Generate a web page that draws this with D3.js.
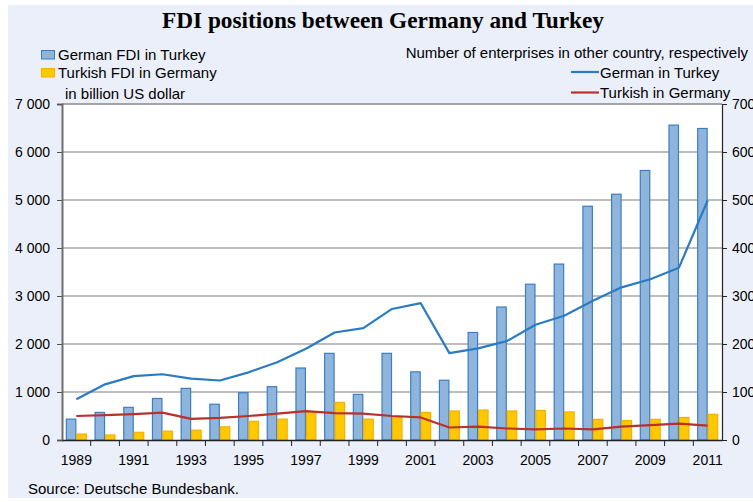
<!DOCTYPE html>
<html>
<head>
<meta charset="utf-8">
<script src="https://cdn.jsdelivr.net/npm/d3@7"></script>
<style>
    html, body { margin: 0; padding: 0; background: #fff; }
    svg { display: block; }
    text { font-family: 'Liberation Sans', Arial, sans-serif; fill: #000; }
</style>
</head>
<body>
<div id="chart"></div>
<script>
(function() {
    'use strict';

    var years = [1989, 1990, 1991, 1992, 1993, 1994, 1995, 1996, 1997, 1998, 1999, 2000,
        2001, 2002, 2003, 2004, 2005, 2006, 2007, 2008, 2009, 2010, 2011];

    // bars, left axis (billion US dollar)
    var germanFdi = [435, 575, 680, 865, 1075, 745, 985, 1110, 1500, 1805, 950, 1805,
        1420, 1245, 2240, 2770, 3245, 3665, 4870, 5120, 5615, 6560, 6490];
    var turkishFdi = [125, 105, 160, 185, 205, 275, 390, 435, 575, 785, 435, 465,
        575, 605, 625, 605, 615, 585, 430, 405, 430, 470, 535];

    // lines, right axis (number of enterprises)
    var germanEnterprises = [85, 116, 133, 137, 128, 124, 141, 162, 190, 224, 233, 273,
        285, 181, 191, 206, 240, 259, 290, 318, 335, 359, 499];
    var turkishEnterprises = [50, 52, 54, 57, 44, 46, 50, 55, 60, 56, 55, 50,
        47, 26, 28, 24, 22, 24, 22, 28, 31, 34, 30];

    var leftTicks = [0, 1000, 2000, 3000, 4000, 5000, 6000, 7000];
    var rightTicks = [0, 100, 200, 300, 400, 500, 600, 700];

    var width = 753, height = 502;
    var plot = { left: 62, right: 722, top: 104, bottom: 440 };

    var svg = d3.select('#chart').append('svg')
        .attr('width', width)
        .attr('height', height);

    // panel background
    svg.append('rect')
        .attr('x', 8).attr('y', 5)
        .attr('width', width - 8).attr('height', 493)
        .attr('fill', '#ebeffa');

    svg.append('rect')
        .attr('x', plot.left).attr('y', plot.top)
        .attr('width', plot.right - plot.left).attr('height', plot.bottom - plot.top)
        .attr('fill', '#fff');

    var x = d3.scaleBand()
        .domain(years)
        .range([plot.left, plot.right])
        .padding(0);

    var xSeries = d3.scaleBand()
        .domain(['de', 'tr'])
        .range([0, x.bandwidth()])
        .paddingInner(0)
        .paddingOuter(0.37);

    var yLeft = d3.scaleLinear().domain([0, 7000]).range([plot.bottom, plot.top]);
    var yRight = d3.scaleLinear().domain([0, 700]).range([plot.bottom, plot.top]);

    // gridlines
    svg.append('g')
        .selectAll('line')
        .data(leftTicks.slice(1))
        .enter().append('line')
        .attr('x1', plot.left).attr('x2', plot.right)
        .attr('y1', function(d) { return yLeft(d); })
        .attr('y2', function(d) { return yLeft(d); })
        .attr('stroke', '#a9a9a9')
        .attr('stroke-width', 1.6);

    // bars
    var bars = svg.append('g');
    bars.selectAll('rect.de')
        .data(germanFdi)
        .enter().append('rect')
        .attr('class', 'de')
        .attr('x', function(d, i) { return x(years[i]) + xSeries('de') + 0.5; })
        .attr('y', function(d) { return yLeft(d); })
        .attr('width', xSeries.bandwidth() - 1)
        .attr('height', function(d) { return yLeft(0) - yLeft(d); })
        .attr('fill', '#8fb5dd')
        .attr('stroke', '#3a7fc3')
        .attr('stroke-width', 1.2);

    bars.selectAll('rect.tr')
        .data(turkishFdi)
        .enter().append('rect')
        .attr('class', 'tr')
        .attr('x', function(d, i) { return x(years[i]) + xSeries('tr') + 0.5; })
        .attr('y', function(d) { return yLeft(d); })
        .attr('width', xSeries.bandwidth() - 1)
        .attr('height', function(d) { return yLeft(0) - yLeft(d); })
        .attr('fill', '#ffc800')
        .attr('stroke', '#f7b000')
        .attr('stroke-width', 1.2);

    // lines
    function drawLine(values, colour) {
        var line = d3.line()
            .x(function(d, i) { return x(years[i]) + x.bandwidth() / 2; })
            .y(function(d) { return yRight(d); });
        svg.append('path')
            .datum(values)
            .attr('d', line)
            .attr('fill', 'none')
            .attr('stroke', colour)
            .attr('stroke-width', 2.2)
            .attr('stroke-linejoin', 'round');
    }
    drawLine(germanEnterprises, '#2b7bc2');
    drawLine(turkishEnterprises, '#b9302c');

    // plot top border
    svg.append('line')
        .attr('x1', plot.left).attr('x2', plot.right)
        .attr('y1', plot.top).attr('y2', plot.top)
        .attr('stroke', '#8c8c8c').attr('stroke-width', 1.2);

    // axes
    var fmt = function(d) { return d3.format(',')(d).replace(/,/g, ' '); };

    var leftAxis = svg.append('g')
        .attr('transform', 'translate(' + plot.left + ',0)')
        .call(d3.axisLeft(yLeft).tickValues(leftTicks).tickFormat(fmt).tickSize(5).tickPadding(7));
    leftAxis.select('.domain').attr('stroke', '#6e6e6e').attr('stroke-width', 2);
    leftAxis.selectAll('.tick line').attr('stroke', '#555');

    var rightAxis = svg.append('g')
        .attr('transform', 'translate(' + plot.right + ',0)')
        .call(d3.axisRight(yRight).tickValues(rightTicks).tickSize(5).tickPadding(5));
    rightAxis.select('.domain').attr('stroke', '#222').attr('stroke-width', 1.2);
    rightAxis.selectAll('.tick line').attr('stroke', '#222');

    var bottomAxis = svg.append('g')
        .attr('transform', 'translate(0,' + plot.bottom + ')')
        .call(d3.axisBottom(x)
            .tickValues(years.filter(function(d, i) { return i % 2 === 0; }))
            .tickSize(0).tickPadding(15));
    bottomAxis.select('.domain').attr('stroke', '#222').attr('stroke-width', 1.5);

    // category boundary ticks
    bottomAxis.selectAll('line.edge')
        .data(years.slice(1))
        .enter().append('line')
        .attr('class', 'edge')
        .attr('x1', function(d) { return x(d); })
        .attr('x2', function(d) { return x(d); })
        .attr('y1', 0).attr('y2', 6)
        .attr('stroke', '#222');

    svg.selectAll('.tick text')
        .attr('font-family', "'Liberation Sans', Arial, sans-serif")
        .attr('font-size', 14)
        .attr('fill', '#000');

    // title
    svg.append('text')
        .attr('x', 383).attr('y', 28)
        .attr('text-anchor', 'middle')
        .style('font-family', "'Liberation Serif', 'Times New Roman', serif")
        .style('font-weight', 'bold')
        .style('font-size', '23.3px')
        .text('FDI positions between Germany and Turkey');

    // legend left
    var barLegend = [
        { label: 'German FDI in Turkey', fill: '#8fb5dd', stroke: '#3a7fc3' },
        { label: 'Turkish FDI in Germany', fill: '#ffc800', stroke: '#f7b000' }
    ];
    barLegend.forEach(function(item, i) {
        var y = 50 + i * 18;
        svg.append('rect')
            .attr('x', 41.5).attr('y', y + 0.5)
            .attr('width', 13).attr('height', 8.5)
            .attr('fill', item.fill)
            .attr('stroke', item.stroke);
        svg.append('text')
            .attr('x', 58).attr('y', y + 9.5)
            .style('font-size', '15px')
            .text(item.label);
    });
    svg.append('text')
        .attr('x', 65).attr('y', 98.5)
        .style('font-size', '15px')
        .text('in billion US dollar');

    // legend right
    svg.append('text')
        .attr('x', 748).attr('y', 58)
        .attr('text-anchor', 'end')
        .style('font-size', '15px')
        .text('Number of enterprises in other country, respectively');

    var lineLegend = [
        { label: 'German in Turkey', colour: '#2b7bc2' },
        { label: 'Turkish in Germany', colour: '#b9302c' }
    ];
    lineLegend.forEach(function(item, i) {
        var y = 72 + i * 20.5;
        svg.append('line')
            .attr('x1', 571).attr('x2', 599)
            .attr('y1', y).attr('y2', y)
            .attr('stroke', item.colour)
            .attr('stroke-width', 2.2);
        svg.append('text')
            .attr('x', 600).attr('y', y + 5.5)
            .style('font-size', '15px')
            .text(item.label);
    });

    svg.append('text')
        .attr('x', 28).attr('y', 494)
        .style('font-size', '15px')
        .text('Source: Deutsche Bundesbank.');
})();
</script>
</body>
</html>
